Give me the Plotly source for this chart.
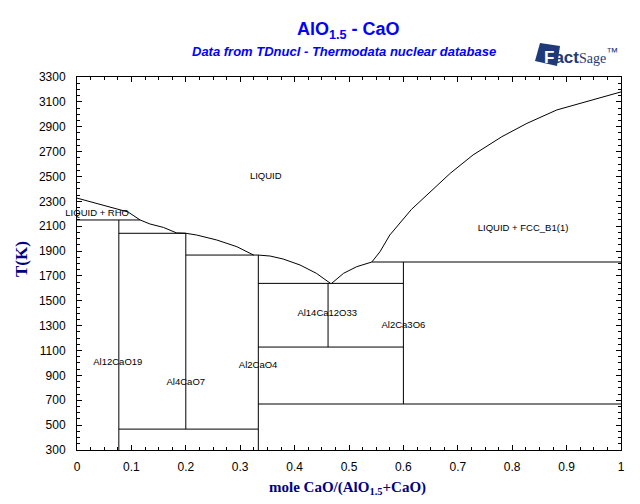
import plotly.graph_objects as go

# ---- data (mole fraction CaO, temperature K) ----
# liquidus curves
liq_rho_x = [0.0, 0.05, 0.094, 0.116]
liq_rho_T = [2326, 2268, 2214, 2150]

liq_a12_x = [0.116, 0.134, 0.159, 0.183, 0.2]
liq_a12_T = [2150, 2118, 2090, 2046, 2043]

liq_a4_x = [0.2, 0.22, 0.257, 0.294, 0.318, 0.325]
liq_a4_T = [2043, 2029, 1989, 1935, 1882, 1868]

liq_a2_x = [0.333, 0.355, 0.379, 0.41, 0.44, 0.462, 0.466]
liq_a2_T = [1868, 1860, 1836, 1788, 1721, 1652, 1640]

liq_c3_x = [0.468, 0.49, 0.514, 0.542]
liq_c3_T = [1640, 1721, 1774, 1812]

liq_cao_x = [0.542, 0.557, 0.575, 0.615, 0.686, 0.728, 0.781, 0.827, 0.882, 0.937, 1.0]
liq_cao_T = [1812, 1895, 2029, 2236, 2525, 2673, 2820, 2927, 3035, 3102, 3180]

# invariant (horizontal) lines
iso_T = [2150, 2043, 1868, 1640, 1812, 1128, 670, 468]
iso_x0 = [0.0, 0.0769, 0.2, 0.333, 0.542, 0.333, 0.333, 0.0769]
iso_x1 = [0.116, 0.2, 0.333, 0.6, 1.0, 0.6, 1.0, 0.333]

# compound (vertical) lines
cmp_x = [0.0769, 0.2, 0.3333, 0.4615, 0.6]
cmp_Tlo = [300, 468, 300, 1128, 670]
cmp_Thi = [2150, 2043, 1868, 1640, 1812]

# phase labels
lab_text = ["LIQUID", "LIQUID + RHO", "LIQUID + FCC_B1(1)", "Al14Ca12O33",
            "Al2Ca3O6", "Al12CaO19", "Al4CaO7", "Al2CaO4"]
lab_x = [0.347, 0.037, 0.82, 0.46, 0.6, 0.075, 0.2, 0.333]
lab_T = [2500, 2200, 2077, 1393, 1297, 999, 838, 975]

x_ticks = [0, 0.1, 0.2, 0.3, 0.4, 0.5, 0.6, 0.7, 0.8, 0.9, 1]
y_ticks = list(range(300, 3301, 200))

fig = go.Figure()
line = dict(color="black", width=1)

for xs, ts in [(liq_rho_x, liq_rho_T), (liq_a12_x, liq_a12_T), (liq_a4_x, liq_a4_T),
               (liq_a2_x, liq_a2_T), (liq_c3_x, liq_c3_T), (liq_cao_x, liq_cao_T)]:
    fig.add_trace(go.Scatter(x=xs, y=ts, mode="lines", line=line, hoverinfo="skip"))

for T, a, b in zip(iso_T, iso_x0, iso_x1):
    fig.add_trace(go.Scatter(x=[a, b], y=[T, T], mode="lines", line=line, hoverinfo="skip"))

for x, lo, hi in zip(cmp_x, cmp_Tlo, cmp_Thi):
    fig.add_trace(go.Scatter(x=[x, x], y=[lo, hi], mode="lines", line=line, hoverinfo="skip"))

fig.add_trace(go.Scatter(x=lab_x, y=lab_T, text=lab_text, mode="text", cliponaxis=False,
                         textfont=dict(family="Arial, Liberation Sans", size=9.5, color="black"),
                         hoverinfo="skip"))

axis_common = dict(showgrid=False, zeroline=False, showline=True, linecolor="black",
                   linewidth=1, mirror="allticks", ticks="inside", ticklen=5,
                   tickcolor="black", tickwidth=1, automargin=False,
                   tickfont=dict(family="Arial, Liberation Sans", size=12, color="black"))

fig.update_xaxes(range=[0, 1], tickvals=x_ticks, ticklabelstandoff=6,
                 minor=dict(ticks="inside", dtick=0.025, ticklen=3, tickcolor="black"),
                 **axis_common)
fig.update_yaxes(range=[300, 3300], tickvals=y_ticks, ticklabelstandoff=8,
                 minor=dict(ticks="inside", dtick=50, tick0=300, ticklen=3, tickcolor="black"),
                 **axis_common)

# page body has an 8px margin: figure is sized so that plot sits at the reference position
OFF = 8
L, T0, PW, PH = 77, 77, 544, 373


def px(x):
    return (x - L) / PW


def py(y):
    return (T0 + PH - y) / PH


ann = [
    dict(text="<b>AlO<sub>1.5</sub> - CaO</b>", x=px(348), y=py(31), xref="paper", yref="paper",
         xanchor="center", yanchor="middle",
         showarrow=False, font=dict(family="Arial, Liberation Sans", size=18, color="#0000FF")),
    dict(text="<b><i>Data from TDnucl - Thermodata nuclear database</i></b>", x=px(344), y=py(52),
         xanchor="center", yanchor="middle",
         xref="paper", yref="paper", showarrow=False,
         font=dict(family="Arial, Liberation Sans", size=13, color="#0000FF")),
    dict(text="<b>T(K)</b>", x=px(21), y=py(259), xref="paper", yref="paper", textangle=-90,
         xanchor="center", yanchor="middle",
         showarrow=False, font=dict(family="Times New Roman, Liberation Serif, serif", size=17, color="#000080")),
    dict(text="<b>mole CaO/(AlO<sub>1.5</sub>+CaO)</b>", x=px(347), y=py(488), xref="paper", yref="paper",
         xanchor="center", yanchor="middle",
         showarrow=False, font=dict(family="Times New Roman, Liberation Serif, serif", size=15, color="#000080")),
    dict(text="<b><span style='color:white'>F</span>act</b><span style='font-family:Liberation Serif;font-size:14px'>Sage</span><sup>™</sup>",
         x=px(542), y=py(56), xref="paper", yref="paper", xanchor="left", yanchor="middle",
         showarrow=False, font=dict(family="Liberation Sans, Arial", size=17, color="#1F3A78")),
]
fig.update_layout(
    width=640 - 2 * OFF, height=504 - 2 * OFF, showlegend=False,
    plot_bgcolor="white", paper_bgcolor="white",
    margin=dict(l=L - OFF, r=640 - OFF - (L + PW), t=T0 - OFF, b=504 - OFF - (T0 + PH),
                autoexpand=False),
    annotations=ann,
    shapes=[dict(type="path", xref="paper", yref="paper",
                 path="M {} {} L {} {} L {} {} L {} {} Z".format(
                     px(540), py(43), px(560), py(46), px(557), py(66), px(535), py(61)),
                 fillcolor="#1F3A78", line=dict(width=0), layer="below")],
)

fig.write_html("out.html")
